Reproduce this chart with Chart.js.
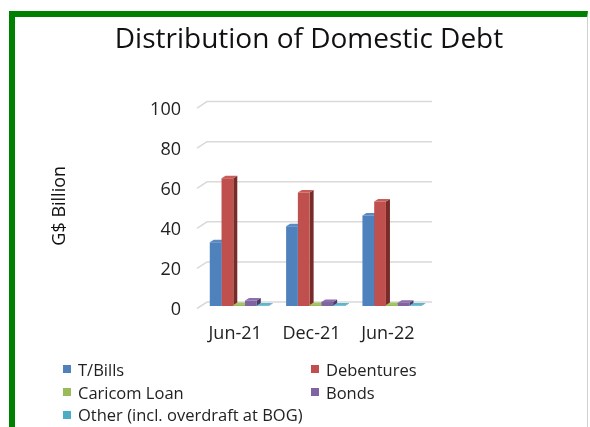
<!DOCTYPE html>
<html>
<head>
<meta charset="utf-8">
<script src="https://cdn.jsdelivr.net/npm/chart.js@4.4.0/dist/chart.umd.min.js"></script>
<style>
  body { margin: 0; background: #fff; }
  #wrap { position: relative; width: 590px; height: 427px; overflow: hidden; }
  #frame { position: absolute; left: 9px; top: 11px; width: 572px; height: 430px;
           border-left: 6px solid #008000; border-top: 6px solid #008000; border-right: 1px solid #d0d0d0; }
  canvas { position: absolute; left: 0; top: 0; }
  #legend { position: absolute; left: 63px; top: 358px; display: grid;
            grid-template-columns: 248px auto; grid-auto-rows: 22.7px;
            font-family: "Open Sans", sans-serif; font-size: 16.5px; color: #222; }
  #legend div { display: flex; align-items: center; }
  #legend span.box { width: 8px; height: 8px; margin-right: 7px; }
</style>
</head>
<body>
<div id="wrap">
  <div id="frame"></div>
  <canvas id="graph" width="590" height="427"></canvas>
  <div id="legend"></div>
</div>
<script>
const labels = ["Jun-21", "Dec-21", "Jun-22"];
const tBills = [31.8, 39.8, 45.2];
const debentures = [63.8, 56.6, 52.2];
const caricomLoan = [0.5, 0.5, 0.5];
const bonds = [2.8, 2.0, 1.6];
const other = [0.3, 0.3, 0.3];

const front = ["#4F81BD", "#C0504D", "#9BBB59", "#8064A2", "#4BACC6"];
const side  = ["#2c4d75", "#772c2a", "#5f7530", "#4d3b62", "#276a7c"];
const top_  = ["#5a8ac4", "#c95d5a", "#a5c468", "#8b70ad", "#5bb6ce"];

const DX = 4, DY = 2.5;

// back wall gridlines and 3d side/top faces, drawn behind the bar fronts
const depth = {
    id: "depth",
    beforeDatasetsDraw(chart) {
        const ctx = chart.ctx;
        const y = chart.scales.y;
        const area = chart.chartArea;
        ctx.save();
        ctx.strokeStyle = "#d9d9d9";
        ctx.lineWidth = 1.5;
        y.ticks.forEach(t => {
            const py = y.getPixelForValue(t.value);
            ctx.beginPath();
            ctx.moveTo(area.left - 4, py + 2.5);
            ctx.lineTo(area.left + 6, py - 4);
            ctx.lineTo(area.right + 2, py - 4);
            ctx.stroke();
        });
        chart.data.datasets.forEach((ds, i) => {
            chart.getDatasetMeta(i).data.forEach(bar => {
                const l = bar.x - bar.width / 2, r = bar.x + bar.width / 2;
                ctx.fillStyle = side[i];
                ctx.beginPath();
                ctx.moveTo(r, bar.y);
                ctx.lineTo(r + DX, bar.y - DY);
                ctx.lineTo(r + DX, bar.base - DY);
                ctx.lineTo(r, bar.base);
                ctx.closePath();
                ctx.fill();
                ctx.fillStyle = top_[i];
                ctx.beginPath();
                ctx.moveTo(l, bar.y);
                ctx.lineTo(l + DX, bar.y - DY);
                ctx.lineTo(r + DX, bar.y - DY);
                ctx.lineTo(r, bar.y);
                ctx.closePath();
                ctx.fill();
            });
        });
        ctx.restore();
    }
};

const names = ["T/Bills", "Debentures", "Caricom Loan", "Bonds", "Other (incl. overdraft at BOG)"];
const series = [tBills, debentures, caricomLoan, bonds, other];

const chart = new Chart(document.getElementById("graph").getContext("2d"), {
    type: "bar",
    data: {
        labels: labels,
        datasets: series.map((d, i) => ({
            label: names[i],
            data: d,
            backgroundColor: front[i],
            categoryPercentage: 0.77,
            barPercentage: 1
        }))
    },
    options: {
        responsive: false,
        animation: false,
        layout: { padding: { left: 28, right: 0, top: 0, bottom: 0 } },
        plugins: {
            legend: { display: false },
            tooltip: { enabled: false },
            title: {
                display: true,
                text: "Distribution of Domestic Debt",
                color: "#111",
                font: { family: "Open Sans", size: 28, weight: "normal" },
                padding: { top: 23, bottom: 49 }
            }
        },
        scales: {
            x: {
                grid: { display: false, drawTicks: false },
                border: { display: false },
                ticks: { color: "#222", padding: 17, labelOffset: -4,
                         font: { family: "Open Sans", size: 18 } },
                afterFit: s => { s.height = 121; }
            },
            y: {
                min: 0, max: 100,
                grid: { display: false, drawTicks: false },
                border: { display: false },
                ticks: { stepSize: 20, color: "#222", padding: 20, labelOffset: 4,
                         font: { family: "Open Sans", size: 18 } },
                title: { display: true, text: "G$ Billion", color: "#111",
                         font: { family: "Open Sans", size: 18 }, padding: { top: 21 } },
                afterFit: s => { s.width = 173; }
            },
            yr: {
                type: "linear", axis: "y", position: "right",
                grid: { display: false, drawTicks: false },
                border: { display: false },
                ticks: { display: false },
                afterFit: s => { s.width = 160; }
            }
        }
    },
    plugins: [depth]
});

const legend = document.getElementById("legend");
chart.data.datasets.forEach(ds => {
    const item = document.createElement("div");
    item.innerHTML = '<span class="box" style="background:' + ds.backgroundColor + '"></span>' + ds.label;
    legend.appendChild(item);
});
</script>
</body>
</html>
